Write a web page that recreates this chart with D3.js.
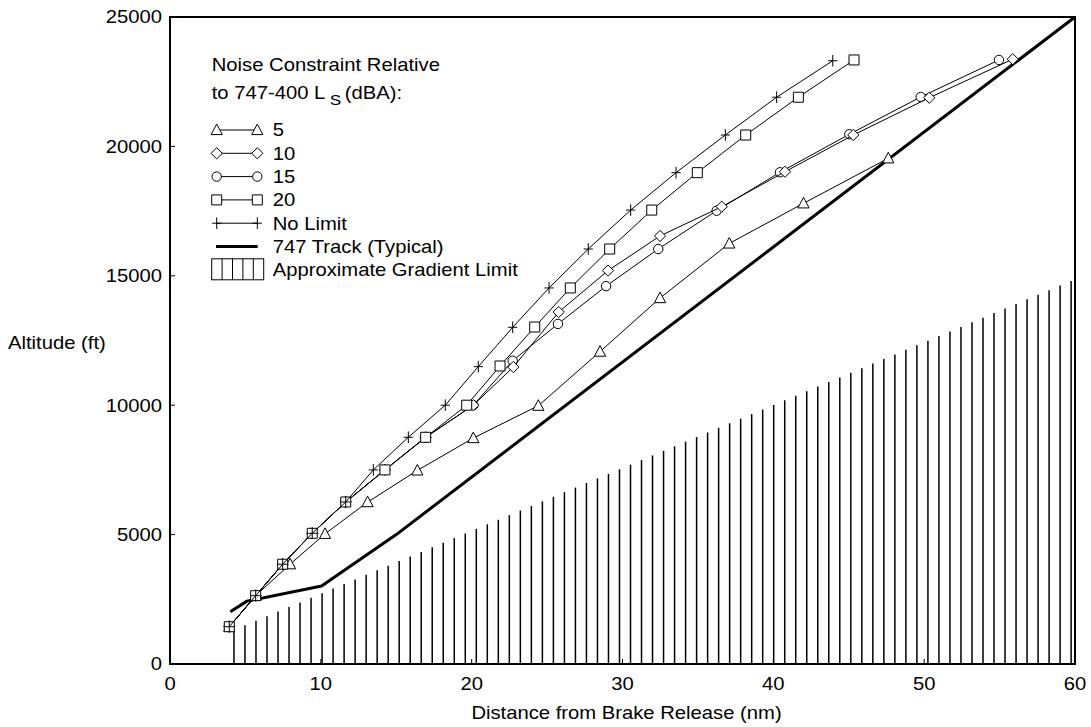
<!DOCTYPE html>
<html>
<head>
<meta charset="utf-8">
<script src="https://cdn.jsdelivr.net/npm/d3@7"></script>
<style>
  body { margin: 0; background: #fff; }
  svg { display: block; }
  text { font-family: "Liberation Sans", Arial, Helvetica, sans-serif; fill: #000; }
</style>
</head>
<body>
<svg id="chart" width="1091" height="727"></svg>
<script>
// ---- Data: climb profiles (distance in nm, altitude in ft) ----
const xTicks = [0, 10, 20, 30, 40, 50, 60];
const yTicks = [0, 5000, 10000, 15000, 20000, 25000];

// Noise constraint relative to 747-400 Ls: 5 dBA
const dist5 = [3.93, 5.68, 7.96, 10.28, 13.10, 16.40, 20.11, 24.42, 28.51, 32.49, 37.08, 42.00, 47.62];
const alt5  = [1440, 2640, 3855, 5030, 6255, 7480, 8730, 9980, 12070, 14140, 16250, 17800, 19540];

// 10 dBA
const dist10 = [3.93, 5.68, 7.47, 9.43, 11.65, 14.25, 16.95, 20.11, 22.76, 25.77, 29.04, 32.49, 36.58, 40.77, 45.30, 50.34, 55.87];
const alt10  = [1440, 2640, 3855, 5050, 6260, 7500, 8760, 10000, 11475, 13600, 15200, 16540, 17670, 19020, 20440, 21880, 23370];

// 15 dBA
const dist15 = [3.93, 5.68, 7.47, 9.43, 11.65, 14.25, 16.95, 20.11, 22.72, 25.72, 28.91, 32.37, 36.24, 40.44, 45.04, 49.77, 54.96];
const alt15  = [1440, 2640, 3855, 5050, 6260, 7500, 8760, 10000, 11720, 13140, 14600, 16035, 17515, 19000, 20470, 21910, 23340];

// 20 dBA
const dist20 = [3.93, 5.68, 7.47, 9.43, 11.65, 14.25, 16.95, 19.67, 21.88, 24.18, 26.54, 29.15, 31.94, 34.96, 38.17, 41.66, 45.35];
const alt20  = [1440, 2640, 3855, 5050, 6260, 7500, 8760, 10000, 11515, 13020, 14530, 16035, 17540, 18985, 20440, 21900, 23340];

// No limit
const distNL = [3.93, 5.68, 7.47, 9.43, 11.65, 13.48, 15.80, 18.25, 20.44, 22.72, 25.13, 27.73, 30.54, 33.55, 36.82, 40.22, 43.94];
const altNL  = [1440, 2640, 3855, 5050, 6260, 7500, 8760, 10000, 11490, 13010, 14530, 16035, 17540, 18985, 20440, 21900, 23310];

// Typical 747 track
const trackDist = [4.0, 5.1, 10.05, 15.0, 60.0];
const trackAlt  = [2020, 2430, 3015, 5000, 25000];

// Approximate gradient limit (boundary of the hatched region) and hatch spacing in nm
const gradDist = [4.24, 59.74];
const gradAlt  = [1316, 14800];
const hatchStep = 0.7303;

const legendLabels = ["5", "10", "15", "20", "No Limit", "747 Track (Typical)", "Approximate Gradient Limit"];

// ---- Layout ----
const W = 1091, H = 727;
const margin = { left: 170, right: 16, top: 17, bottom: 63 };
const FS = 17.6;      // font size
const SX = 1.15;      // horizontal stretch of the lettering

const svg = d3.select("#chart");
const x = d3.scaleLinear().domain([0, 60]).range([margin.left, W - margin.right]);
const y = d3.scaleLinear().domain([0, 25000]).range([H - margin.bottom, margin.top]);

function label(g, px, py, str, anchor, size) {
  return g.append("text")
    .attr("transform", `translate(${px},${py}) scale(${SX},1)`)
    .attr("text-anchor", anchor || "start")
    .attr("font-size", size || FS)
    .text(str);
}

// ---- Hatched gradient limit ----
const gradScale = d3.scaleLinear().domain(gradDist).range(gradAlt);
const nHatch = Math.round((gradDist[1] - gradDist[0]) / hatchStep) + 1;
const hatchX = d3.range(nHatch).map(i => gradDist[0] + i * hatchStep);
svg.append("g").selectAll("line").data(hatchX).join("line")
  .attr("x1", d => x(d)).attr("x2", d => x(d))
  .attr("y1", y(0)).attr("y2", d => y(gradScale(d)))
  .attr("stroke", "#000").attr("stroke-width", 1.5);

// ---- Axes ----
const xAxis = d3.axisBottom(x).tickValues(xTicks).tickSize(0).tickFormat("");
const yAxis = d3.axisLeft(y).tickValues(yTicks).tickSize(0).tickFormat("");
const gx = svg.append("g").attr("transform", `translate(0,${y(0)})`).call(xAxis);
const gy = svg.append("g").attr("transform", `translate(${x(0)},0)`).call(yAxis);
gx.select(".domain").remove();
gy.select(".domain").remove();

// inward tick marks
svg.append("g").selectAll("line").data(xTicks.slice(1, -1)).join("line")
  .attr("x1", d => x(d)).attr("x2", d => x(d))
  .attr("y1", y(0)).attr("y2", y(0) - 5)
  .attr("stroke", "#000").attr("stroke-width", 1);
svg.append("g").selectAll("line").data(yTicks.slice(1, -1)).join("line")
  .attr("x1", x(0)).attr("x2", x(0) + 5)
  .attr("y1", d => y(d)).attr("y2", d => y(d))
  .attr("stroke", "#000").attr("stroke-width", 1);

// frame
svg.append("rect")
  .attr("x", x(0)).attr("y", y(25000))
  .attr("width", x(60) - x(0)).attr("height", y(0) - y(25000))
  .attr("fill", "none").attr("stroke", "#000").attr("stroke-width", 2);

// tick labels
const tl = svg.append("g");
xTicks.forEach(t => label(tl, x(t), y(0) + 26, String(t), "middle"));
yTicks.forEach(t => label(tl, x(0) - 8, y(t) + 6.3, String(t), "end"));

// axis titles
label(svg, (x(0) + x(60)) / 2 + 4, 719, "Distance from Brake Release (nm)", "middle");
label(svg, 8, 349, "Altitude (ft)", "start");

// ---- 747 track ----
const lineGen = d3.line().x(d => x(d[0])).y(d => y(d[1]));
svg.append("path")
  .datum(d3.zip(trackDist, trackAlt))
  .attr("d", lineGen)
  .attr("fill", "none").attr("stroke", "#000").attr("stroke-width", 3)
  .attr("stroke-linejoin", "round");

// ---- Marker shapes ----
const shapes = {
  triangle: "M0,-6L5.6,4.6L-5.6,4.6Z",
  diamond: "M0,-5.6L5.6,0L0,5.6L-5.6,0Z",
  circle: d3.symbol(d3.symbolCircle, Math.PI * 4.7 * 4.7)(),
  square: "M-5,-5H5V5H-5Z",
  plus: "M-4.6,0H4.6M0,-5.8V5.8"
};

const series = [
  { name: "5",        dist: dist5,  alt: alt5,  shape: "triangle" },
  { name: "15",       dist: dist15, alt: alt15, shape: "circle" },
  { name: "10",       dist: dist10, alt: alt10, shape: "diamond" },
  { name: "20",       dist: dist20, alt: alt20, shape: "square" },
  { name: "No Limit", dist: distNL, alt: altNL, shape: "plus" }
];

series.forEach(s => {
  const pts = d3.zip(s.dist, s.alt);
  const g = svg.append("g");
  g.append("path").datum(pts).attr("d", lineGen)
    .attr("fill", "none").attr("stroke", "#000").attr("stroke-width", 1);
  g.selectAll("path.m").data(pts).join("path").attr("class", "m")
    .attr("transform", d => `translate(${x(d[0])},${y(d[1])})`)
    .attr("d", shapes[s.shape])
    .attr("fill", s.shape === "plus" ? "none" : "#fff")
    .attr("stroke", "#000").attr("stroke-width", 1);
});

// ---- Legend ----
const lg = svg.append("g");
const lx0 = 211.7;
label(lg, lx0, 70.5, "Noise Constraint Relative", "start");
const t2 = lg.append("text")
  .attr("transform", `translate(${lx0},98.5) scale(${SX},1)`)
  .attr("font-size", FS);
t2.append("tspan").text("to 747-400 L");
t2.append("tspan").attr("dx", 4).attr("dy", 6).attr("font-size", FS * 0.85).text("S");
t2.append("tspan").attr("dx", 3).attr("dy", -6).text("(dBA):");

const rowY = i => 130 + i * 23.3;
const legendShapes = ["triangle", "diamond", "circle", "square", "plus"];
legendShapes.forEach((sh, i) => {
  const cy = rowY(i);
  lg.append("line").attr("x1", 216.7).attr("x2", 257.3).attr("y1", cy).attr("y2", cy)
    .attr("stroke", "#000").attr("stroke-width", 1);
  [216.7, 257.3].forEach(cx => {
    lg.append("path").attr("transform", `translate(${cx},${cy})`)
      .attr("d", shapes[sh])
      .attr("fill", sh === "plus" ? "none" : "#fff")
      .attr("stroke", "#000").attr("stroke-width", 1);
  });
  label(lg, 272.7, cy + 6.3, legendLabels[i], "start");
});
// track legend
lg.append("line").attr("x1", 216).attr("x2", 257.7).attr("y1", rowY(5)).attr("y2", rowY(5))
  .attr("stroke", "#000").attr("stroke-width", 3);
label(lg, 272.7, rowY(5) + 6.3, legendLabels[5], "start");
// hatch legend box
const bx = 211.7, bw = 52, by = rowY(6) - 11, bh = 21;
lg.append("rect").attr("x", bx).attr("y", by).attr("width", bw).attr("height", bh)
  .attr("fill", "none").attr("stroke", "#000").attr("stroke-width", 1);
d3.range(1, 5).forEach(k => {
  lg.append("line").attr("x1", bx + k * bw / 5).attr("x2", bx + k * bw / 5)
    .attr("y1", by).attr("y2", by + bh).attr("stroke", "#000").attr("stroke-width", 1);
});
label(lg, 272.7, rowY(6) + 6.3, legendLabels[6], "start");
</script>
</body>
</html>
